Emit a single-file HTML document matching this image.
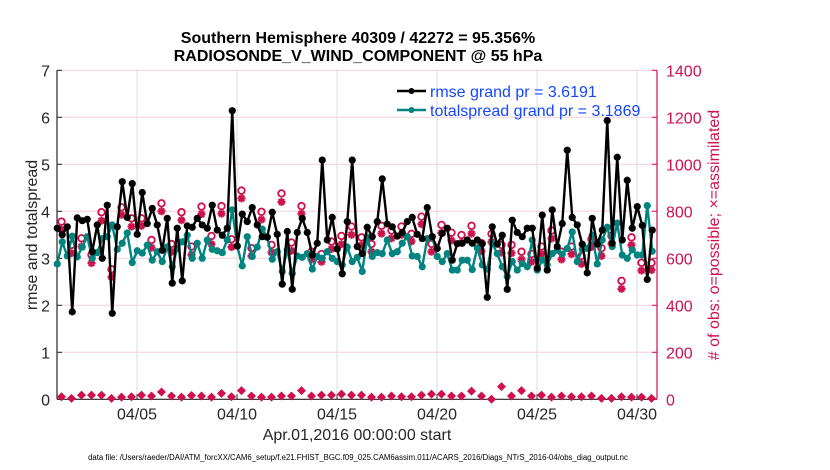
<!DOCTYPE html>
<html><head><meta charset="utf-8"><style>
html,body{margin:0;padding:0;background:#fff;}
svg{display:block;font-family:"Liberation Sans",Arial,sans-serif;}
</style></head><body>
<svg id="chart" width="830" height="470" xmlns="http://www.w3.org/2000/svg"></svg>
<script>
const rmse=[3.64,3.5,3.67,1.86,3.86,3.8,3.83,3.14,3.71,3.0,4.13,1.83,3.67,4.63,3.87,4.59,3.51,4.4,3.74,4.06,3.71,3.17,3.85,2.47,3.64,2.52,3.69,3.66,3.85,3.71,3.64,4.13,3.6,3.49,3.64,6.14,3.26,3.94,3.78,4.08,3.71,3.46,
3.45,3.98,3.51,2.45,3.57,2.34,3.55,3.85,3.55,3.07,3.32,5.09,3.39,3.87,3.2,2.67,3.78,5.09,3.25,3.1,3.66,3.46,3.78,4.69,3.73,3.67,3.47,3.55,3.78,3.87,3.51,3.42,4.08,3.46,3.21,3.53,3.64,2.96,3.31,3.32,
3.39,3.32,3.39,3.31,2.17,3.67,3.3,3.49,2.34,3.81,3.55,3.46,3.64,3.64,2.79,3.92,2.75,4.03,3.25,3.74,5.3,3.87,3.71,3.3,2.69,3.85,3.3,3.6,5.93,3.32,5.15,3.39,4.66,3.64,4.1,3.7,2.55,3.6];
const spread=[2.88,3.35,3.05,3.47,3.03,3.24,3.46,3.0,3.12,3.42,3.46,3.71,3.19,3.32,3.54,2.91,3.16,3.11,3.28,2.96,3.14,2.93,3.24,2.82,3.21,3.35,3.49,3.0,3.32,3.0,3.39,3.19,3.16,3.12,3.39,4.03,3.26,2.84,3.46,3.04,3.24,3.62,
3.45,2.98,3.14,2.72,3.18,2.68,3.05,3.02,3.1,2.77,3.04,3.0,3.14,3.0,2.93,2.86,3.24,2.93,3.02,2.72,3.45,3.04,3.12,3.1,3.39,3.1,3.14,3.32,3.46,3.05,3.04,2.82,3.42,3.46,3.04,2.93,3.1,2.75,2.75,2.96,
2.96,2.76,3.22,2.86,2.77,3.32,3.1,2.82,2.61,2.93,2.75,2.89,2.82,3.39,2.75,2.96,2.86,3.1,3.17,3.09,3.21,3.56,2.93,3.19,3.21,3.49,2.88,3.39,3.66,3.25,3.75,3.07,3.0,3.18,3.07,3.07,4.12,3.15];
const possible=[756,657,685,614,796,553,817,770,770,678,834,661,796,650,820,695,822,681,888,643,798,
657,876,667,822,628,618,671,695,735,689,661,738,718,735,704,777,661,742,709,699,
738,664,704,657,657,628,618,650,718,628,650,610,681,643,695,504,689,581,581];
const assim=[722,622,650,580,760,520,785,735,738,645,800,628,762,615,788,660,790,648,855,610,765,
625,840,632,790,595,585,640,660,700,655,628,705,685,700,672,745,628,708,676,666,
705,630,670,624,622,595,585,618,684,595,618,576,648,610,662,470,656,548,550];
const bottom=[11,4,18,18,18,4,9,11,18,14,31,14,9,16,14,9,25,11,37,14,9,9,14,14,37,14,18,18,22,18,
18,9,9,14,11,11,18,22,22,14,14,35,14,0,54,14,37,14,18,9,14,11,11,14,4,4,11,9,9,4];
const leftTicks=[0,1,2,3,4,5,6,7];
const rightTicks=[0,200,400,600,800,1000,1200,1400];
const dateTicks=[4,9,14,19,24,29];
const dateLabels=["04/05","04/10","04/15","04/20","04/25","04/30"];

const NS="http://www.w3.org/2000/svg";
const svg=document.getElementById('chart');
const X0=57,X1=657,Y0=399.3,Y7=70.3;
const xs=d=>X0+(d/30)*(X1-X0);
const yl=v=>Y0-(v/7)*(Y0-Y7);
const yr=v=>Y0-(v/1400)*(Y0-Y7);
function el(t,a,p){const e=document.createElementNS(NS,t);for(const k in a)e.setAttribute(k,a[k]);(p||svg).appendChild(e);return e;}
function txt(s,a){const e=el('text',a);e.textContent=s;return e;}

leftTicks.forEach(v=>{const g=el('line',{x1:X0,x2:X1,y1:yl(v),y2:yl(v),stroke:'#f3cfdc','stroke-width':1});
});
dateTicks.forEach(d=>{const g=el('line',{x1:xs(d),x2:xs(d),y1:Y7,y2:Y0,stroke:'#dcdcdc','stroke-width':1});
});

const la=el('line',{x1:X0,x2:X0,y1:Y7,y2:Y0,stroke:'#262626','stroke-width':1.2});

const ba=el('line',{x1:X0,x2:X1,y1:Y0,y2:Y0,stroke:'#262626','stroke-width':1.2});

const ra=el('line',{x1:X1,x2:X1,y1:Y7,y2:Y0,stroke:'#d0104c','stroke-width':1.2});


leftTicks.forEach(v=>{el('line',{x1:X0,x2:X0+5,y1:yl(v),y2:yl(v),stroke:'#262626'});
const t=txt(String(v),{x:X0-7,y:yl(v)+6,'text-anchor':'end','font-size':16,fill:'#262626'});
});
rightTicks.forEach(v=>{el('line',{x1:X1-5,x2:X1,y1:yr(v),y2:yr(v),stroke:'#d0104c'});
const t=txt(String(v),{x:X1+9,y:yr(v)+6,'font-size':16,fill:'#d0104c'});
});
dateTicks.forEach((d,i)=>{el('line',{x1:xs(d),x2:xs(d),y1:Y0,y2:Y0-5,stroke:'#262626'});
const t=txt(dateLabels[i],{x:xs(d),y:Y0+20,'text-anchor':'middle','font-size':16,fill:'#262626'});
});

const tObs=j=>(j+0.5)*0.5-0.025;
possible.forEach((v,j)=>{const c=el('circle',{cx:xs(tObs(j)),cy:yr(v),r:3.3,fill:'none',stroke:'#d0104c','stroke-width':1.8});
});
function star(x,y,s,name){const g=el('g',{stroke:'#d0104c','stroke-width':2.2});

el('line',{x1:x-s,x2:x+s,y1:y,y2:y},g);el('line',{x1:x,x2:x,y1:y-s,y2:y+s},g);
el('line',{x1:x-s*0.7,x2:x+s*0.7,y1:y-s*0.7,y2:y+s*0.7},g);el('line',{x1:x-s*0.7,x2:x+s*0.7,y1:y+s*0.7,y2:y-s*0.7},g);}
assim.forEach((v,j)=>star(xs(tObs(j)),yr(v),4,'assimilated-obs-marker'));
bottom.forEach((v,j)=>{const x=xs(tObs(j)),y=yr(v);
const p=el('path',{d:`M${x-4.5},${y}L${x},${y-4.5}L${x+4.5},${y}L${x},${y+4.5}Z`,fill:'#d0104c'});
});

const tS=i=>(i+0.05)*0.25;
function series(arr,color,name){
 const pl=el('polyline',{points:arr.map((v,i)=>xs(tS(i))+','+yl(v)).join(' '),fill:'none',stroke:color,'stroke-width':2.4,'stroke-linejoin':'round'});
 
 arr.forEach((v,i)=>{const c=el('circle',{cx:xs(tS(i)),cy:yl(v),r:3.6,fill:color});
 });
}
series(spread,'#00847f','totalspread');
series(rmse,'#000000','rmse');

[['rmse grand pr = 3.6191','#000',91],['totalspread grand pr = 3.1869','#00847f',110]].forEach(([s,c,y],k)=>{
 const g=el('g',{});
 el('line',{x1:397,x2:426,y1:y,y2:y,stroke:c,'stroke-width':2.4},g);el('circle',{cx:411.5,cy:y,r:3,fill:c},g);
 const t=el('text',{x:430,y:y+6,'font-size':16,fill:'#1546ff'},g);t.textContent=s;});

const t1=txt('Southern Hemisphere 40309 / 42272 = 95.356%',{x:358,y:43,'text-anchor':'middle','font-size':16,'font-weight':'bold',fill:'#000'});

const t2=txt('RADIOSONDE_V_WIND_COMPONENT @ 55 hPa',{x:358,y:61,'text-anchor':'middle','font-size':16,'font-weight':'bold',fill:'#000'});

const yt=txt('rmse and totalspread',{x:0,y:0,'text-anchor':'middle','font-size':16,fill:'#262626',transform:'translate(37,235) rotate(-90)'});

const rt=txt('# of obs: o=possible; \u00d7=assimilated',{x:0,y:0,'text-anchor':'middle','font-size':16,fill:'#d0104c',transform:'translate(719,235) rotate(-90)'});

const xt=txt('Apr.01,2016 00:00:00 start',{x:357,y:440,'text-anchor':'middle','font-size':16,fill:'#262626'});

const ft=txt('data file: /Users/raeder/DAI/ATM_forcXX/CAM6_setup/f.e21.FHIST_BGC.f09_025.CAM6assim.011/ACARS_2016/Diags_NTrS_2016-04/obs_diag_output.nc',{x:358,y:460,'text-anchor':'middle','font-size':7.8,fill:'#000'});

</script>
</body></html>
